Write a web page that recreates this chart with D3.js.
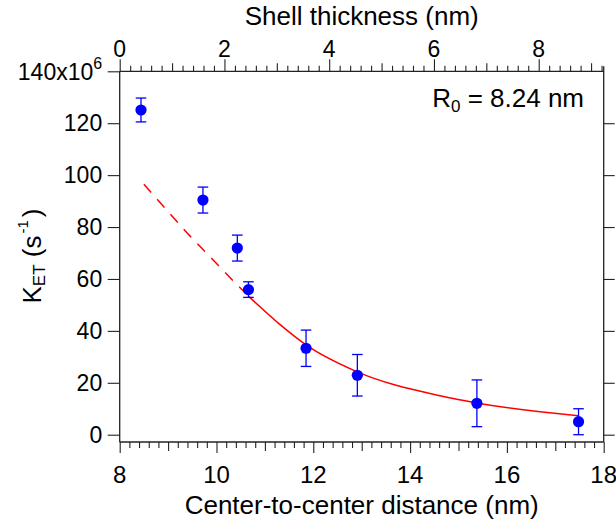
<!DOCTYPE html>
<html>
<head>
<meta charset="utf-8">
<script src="https://cdn.jsdelivr.net/npm/d3@7"></script>
<style>
  body { margin: 0; background: #fff; }
  text { font-family: "Liberation Sans", Arial, Helvetica, sans-serif; fill: #000; }
</style>
</head>
<body>
<div id="chart"></div>
<script>
// measured points
var distance = [8.44, 9.72, 10.43, 10.66, 11.85, 12.91, 15.38, 17.48];
var ket = [125.1, 90.4, 71.9, 55.9, 33.3, 22.9, 12.1, 5.0];
var ketErr = [4.6, 5.0, 5.0, 3.0, 7.0, 8.0, 9.0, 5.0];

// fit curve (dashed = extrapolated part)
var fitDashX = [8.50, 9.16, 9.45, 9.76, 10.07, 10.37, 10.66];
var fitDashY = [96.5, 82.6, 76.6, 70.6, 64.6, 58.8, 53.4];
var fitSolidX = [10.66, 11.32, 11.85, 12.91, 14.62, 15.38, 17.48];
var fitSolidY = [53.4, 42.3, 34.6, 24.2, 15.0, 12.2, 7.3];

// ticks
var yTicks = [0, 20, 40, 60, 80, 100, 120, 140];
var xTicks = [8, 10, 12, 14, 16, 18];
var shellTicks = [0, 2, 4, 6, 8];

var width = 616,
    height = 522;
var plotL = 119.7, plotR = 603.7, plotT = 71.3, plotB = 442;

var svg = d3.select("#chart")
    .append("svg")
    .attr("width", width)
    .attr("height", height);

var xScale = d3.scaleLinear().domain([8, 18]).range([plotL, plotR]);
var shellScale = d3.scaleLinear().domain([0, 8]).range([plotL, 538.7]);
var yScale = d3.scaleLinear().domain([0, 140]).range([434.7, plotT]);

function minorTicks(lo, hi) {
    // every 0.2, skipping integers
    return d3.range(Math.round(lo * 5), Math.round(hi * 5) + 1)
        .map(function(i) { return i / 5; })
        .filter(function(v) { return Math.abs(v - Math.round(v)) > 1e-6; });
}
function oddTicks(lo, hi) {
    return d3.range(lo, hi + 1).filter(function(v) { return v % 2 !== 0; });
}

var axisColor = "#222";

function styleAxis(g) {
    g.select(".domain").remove();
    g.selectAll("line").attr("stroke", axisColor).attr("stroke-width", 1.1);
    g.selectAll("text").remove();
}

// bottom axis
var gb = svg.append("g").attr("transform", "translate(0," + plotB + ")");
gb.append("g").call(d3.axisBottom(xScale).tickValues(minorTicks(8, 18)).tickSize(6)).call(styleAxis);
gb.append("g").call(d3.axisBottom(xScale).tickValues(oddTicks(9, 17)).tickSize(9)).call(styleAxis);
gb.append("g").call(d3.axisBottom(xScale).tickValues(xTicks).tickSize(11)).call(styleAxis);
gb.selectAll(".xlab")
    .data(xTicks)
    .enter().append("text")
    .attr("class", "xlab")
    .attr("x", function(d) { return xScale(d); })
    .attr("y", 483.3 - plotB)
    .attr("text-anchor", "middle")
    .attr("font-size", "24px")
    .text(function(d) { return d; });

// top axis
var gt = svg.append("g").attr("transform", "translate(0," + plotT + ")");
gt.append("g").call(d3.axisTop(shellScale).tickValues(minorTicks(0, 9.2)).tickSize(5.5)).call(styleAxis);
gt.append("g").call(d3.axisTop(shellScale).tickValues(oddTicks(1, 9)).tickSize(8)).call(styleAxis);
gt.append("g").call(d3.axisTop(shellScale).tickValues(shellTicks).tickSize(12)).call(styleAxis);
gt.selectAll(".tlab")
    .data(shellTicks)
    .enter().append("text")
    .attr("class", "tlab")
    .attr("x", function(d) { return shellScale(d); })
    .attr("y", 56.7 - plotT)
    .attr("text-anchor", "middle")
    .attr("font-size", "23px")
    .text(function(d) { return d; });

// left axis
var gl = svg.append("g").attr("transform", "translate(" + plotL + ",0)");
gl.append("g").call(d3.axisLeft(yScale).tickValues(yTicks).tickSize(12)).call(styleAxis);
gl.selectAll(".ylab")
    .data(yTicks.slice(0, -1))
    .enter().append("text")
    .attr("class", "ylab")
    .attr("x", -17.5)
    .attr("y", function(d) { return yScale(d) + 8.2; })
    .attr("text-anchor", "end")
    .attr("font-size", "23px")
    .text(function(d) { return d; });
var topLab = gl.append("text")
    .attr("x", -17.5)
    .attr("y", yScale(140) + 9)
    .attr("text-anchor", "end")
    .attr("font-size", "23px");
topLab.append("tspan").text("140x10");
topLab.append("tspan").attr("font-size", "16px").attr("dy", -11).text("6");

// right axis
var gr = svg.append("g").attr("transform", "translate(" + plotR + ",0)");
gr.append("g").call(d3.axisRight(yScale).tickValues(yTicks.slice(0, -1)).tickSize(11)).call(styleAxis);

// frame lines
svg.append("line").attr("x1", plotL).attr("x2", plotR).attr("y1", plotB).attr("y2", plotB)
    .attr("stroke", axisColor).attr("stroke-width", 1.3);
svg.append("line").attr("x1", plotL).attr("x2", plotR).attr("y1", plotT).attr("y2", plotT)
    .attr("stroke", axisColor).attr("stroke-width", 1.3);
svg.append("line").attr("x1", plotL).attr("x2", plotL).attr("y1", plotT).attr("y2", plotB)
    .attr("stroke", axisColor).attr("stroke-width", 1.3);
svg.append("line").attr("x1", plotR).attr("x2", plotR).attr("y1", plotT - 5).attr("y2", plotB)
    .attr("stroke", axisColor).attr("stroke-width", 1.3);

// axis titles
svg.append("text")
    .attr("x", (plotL + plotR) / 2)
    .attr("y", 25)
    .attr("text-anchor", "middle")
    .attr("font-size", "26px")
    .text("Shell thickness (nm)");

svg.append("text")
    .attr("x", (plotL + plotR) / 2)
    .attr("y", 514)
    .attr("text-anchor", "middle")
    .attr("font-size", "26px")
    .text("Center-to-center distance (nm)");

var yTitle = svg.append("text")
    .attr("transform", "translate(40.7,256) rotate(-90)")
    .attr("text-anchor", "middle")
    .attr("font-size", "26px");
yTitle.append("tspan").text("K");
yTitle.append("tspan").attr("font-size", "17px").attr("dy", 4.5).text("ET");
yTitle.append("tspan").attr("dy", -4.5).text(" (s");
yTitle.append("tspan").attr("font-size", "15px").attr("dx", 2).attr("dy", -13).text("-1");
yTitle.append("tspan").attr("dx", 3).attr("dy", 13).text(")");

// R0 annotation
var r0 = svg.append("text")
    .attr("x", 584)
    .attr("y", 107)
    .attr("text-anchor", "end")
    .attr("font-size", "26px");
r0.append("tspan").text("R");
r0.append("tspan").attr("font-size", "17px").attr("dy", 5).text("0");
r0.append("tspan").attr("dy", -5).text(" = 8.24 nm");

// fit curve
var line = d3.line()
    .x(function(d) { return xScale(d[0]); })
    .y(function(d) { return yScale(d[1]); })
    .curve(d3.curveMonotoneX);

svg.append("path")
    .attr("d", line(d3.zip(fitDashX, fitDashY)))
    .attr("fill", "none")
    .attr("stroke", "#ff0000")
    .attr("stroke-width", 1.5)
    .attr("stroke-dasharray", "11,9");

svg.append("path")
    .attr("d", line(d3.zip(fitSolidX, fitSolidY)))
    .attr("fill", "none")
    .attr("stroke", "#ff0000")
    .attr("stroke-width", 1.5);

// error bars + markers
var pts = distance.map(function(d, i) { return { x: d, y: ket[i], e: ketErr[i] }; });
var cap = 5.3;

var pt = svg.selectAll(".pt")
    .data(pts)
    .enter().append("g")
    .attr("class", "pt");

pt.append("line")
    .attr("x1", function(d) { return xScale(d.x); })
    .attr("x2", function(d) { return xScale(d.x); })
    .attr("y1", function(d) { return yScale(d.y + d.e); })
    .attr("y2", function(d) { return yScale(d.y - d.e); })
    .attr("stroke", "#0000ff").attr("stroke-width", 1.3);
pt.append("line")
    .attr("x1", function(d) { return xScale(d.x) - cap; })
    .attr("x2", function(d) { return xScale(d.x) + cap; })
    .attr("y1", function(d) { return yScale(d.y + d.e); })
    .attr("y2", function(d) { return yScale(d.y + d.e); })
    .attr("stroke", "#0000ff").attr("stroke-width", 1.3);
pt.append("line")
    .attr("x1", function(d) { return xScale(d.x) - cap; })
    .attr("x2", function(d) { return xScale(d.x) + cap; })
    .attr("y1", function(d) { return yScale(d.y - d.e); })
    .attr("y2", function(d) { return yScale(d.y - d.e); })
    .attr("stroke", "#0000ff").attr("stroke-width", 1.3);
pt.append("circle")
    .attr("cx", function(d) { return xScale(d.x); })
    .attr("cy", function(d) { return yScale(d.y); })
    .attr("r", 5.6)
    .attr("fill", "#0000ff");
</script>
</body>
</html>
